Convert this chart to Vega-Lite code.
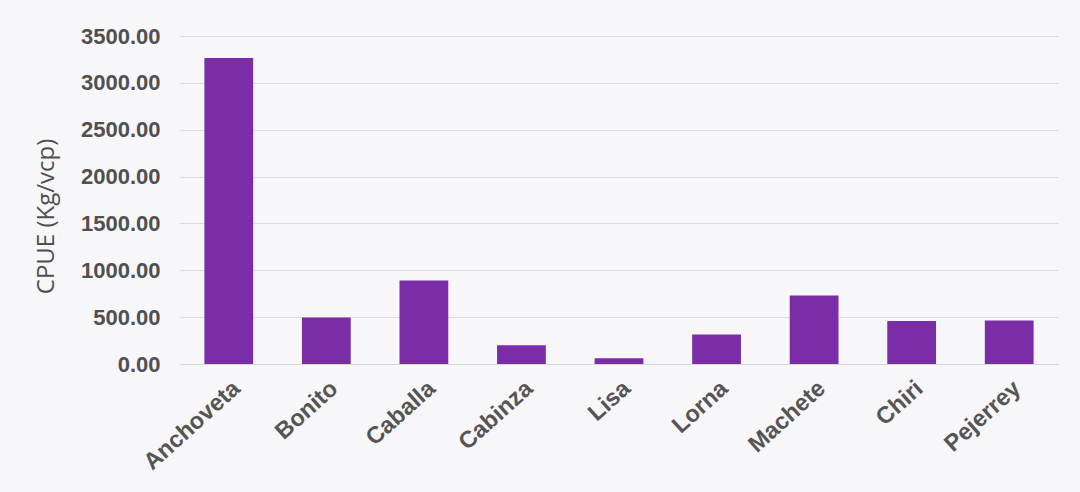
{
  "$schema": "https://vega.github.io/schema/vega-lite/v6.json",
  "width": 878,
  "height": 328,
  "autosize": {"type": "none"},
  "padding": {"left": 180, "top": 36, "right": 22, "bottom": 128},
  "background": "#f7f6f9",
  "data": {
    "values": [
      {"especie": "Anchoveta", "cpue": 3265},
      {"especie": "Bonito", "cpue": 497},
      {"especie": "Caballa", "cpue": 890},
      {"especie": "Cabinza", "cpue": 200},
      {"especie": "Lisa", "cpue": 62},
      {"especie": "Lorna", "cpue": 315},
      {"especie": "Machete", "cpue": 731},
      {"especie": "Chiri", "cpue": 458},
      {"especie": "Pejerrey", "cpue": 465}
    ]
  },
  "config": {
    "view": {"stroke": null},
    "font": "Liberation Sans"
  },
  "mark": {"type": "bar", "color": "#7a2da6"},
  "encoding": {
    "x": {
      "field": "especie",
      "type": "nominal",
      "sort": null,
      "scale": {"paddingInner": 0.5, "paddingOuter": 0.25},
      "axis": {
        "title": null,
        "labelAngle": -42,
        "labelFontSize": 23.5,
        "labelFontWeight": "bold",
        "labelColor": "#555555",
        "labelPadding": 12,
        "ticks": false,
        "domain": true,
        "domainColor": "#d6d6d6",
        "domainWidth": 1
      }
    },
    "y": {
      "field": "cpue",
      "type": "quantitative",
      "scale": {"domain": [0, 3500]},
      "axis": {
        "title": "CPUE (Kg/vcp)",
        "titleFont": "Open Sans",
        "titleFontSize": 24,
        "titleFontWeight": "normal",
        "titleColor": "#505050",
        "titleAngle": -90,
        "titleAlign": "center",
        "titleBaseline": "bottom",
        "titleX": -122,
        "titleY": 180,
        "values": [0, 500, 1000, 1500, 2000, 2500, 3000, 3500],
        "format": ".2f",
        "labelFontSize": 22,
        "labelFontWeight": "bold",
        "labelColor": "#505050",
        "labelPadding": 20,
        "ticks": false,
        "domain": false,
        "gridColor": "#dcdcdc",
        "gridWidth": 1
      }
    }
  }
}
